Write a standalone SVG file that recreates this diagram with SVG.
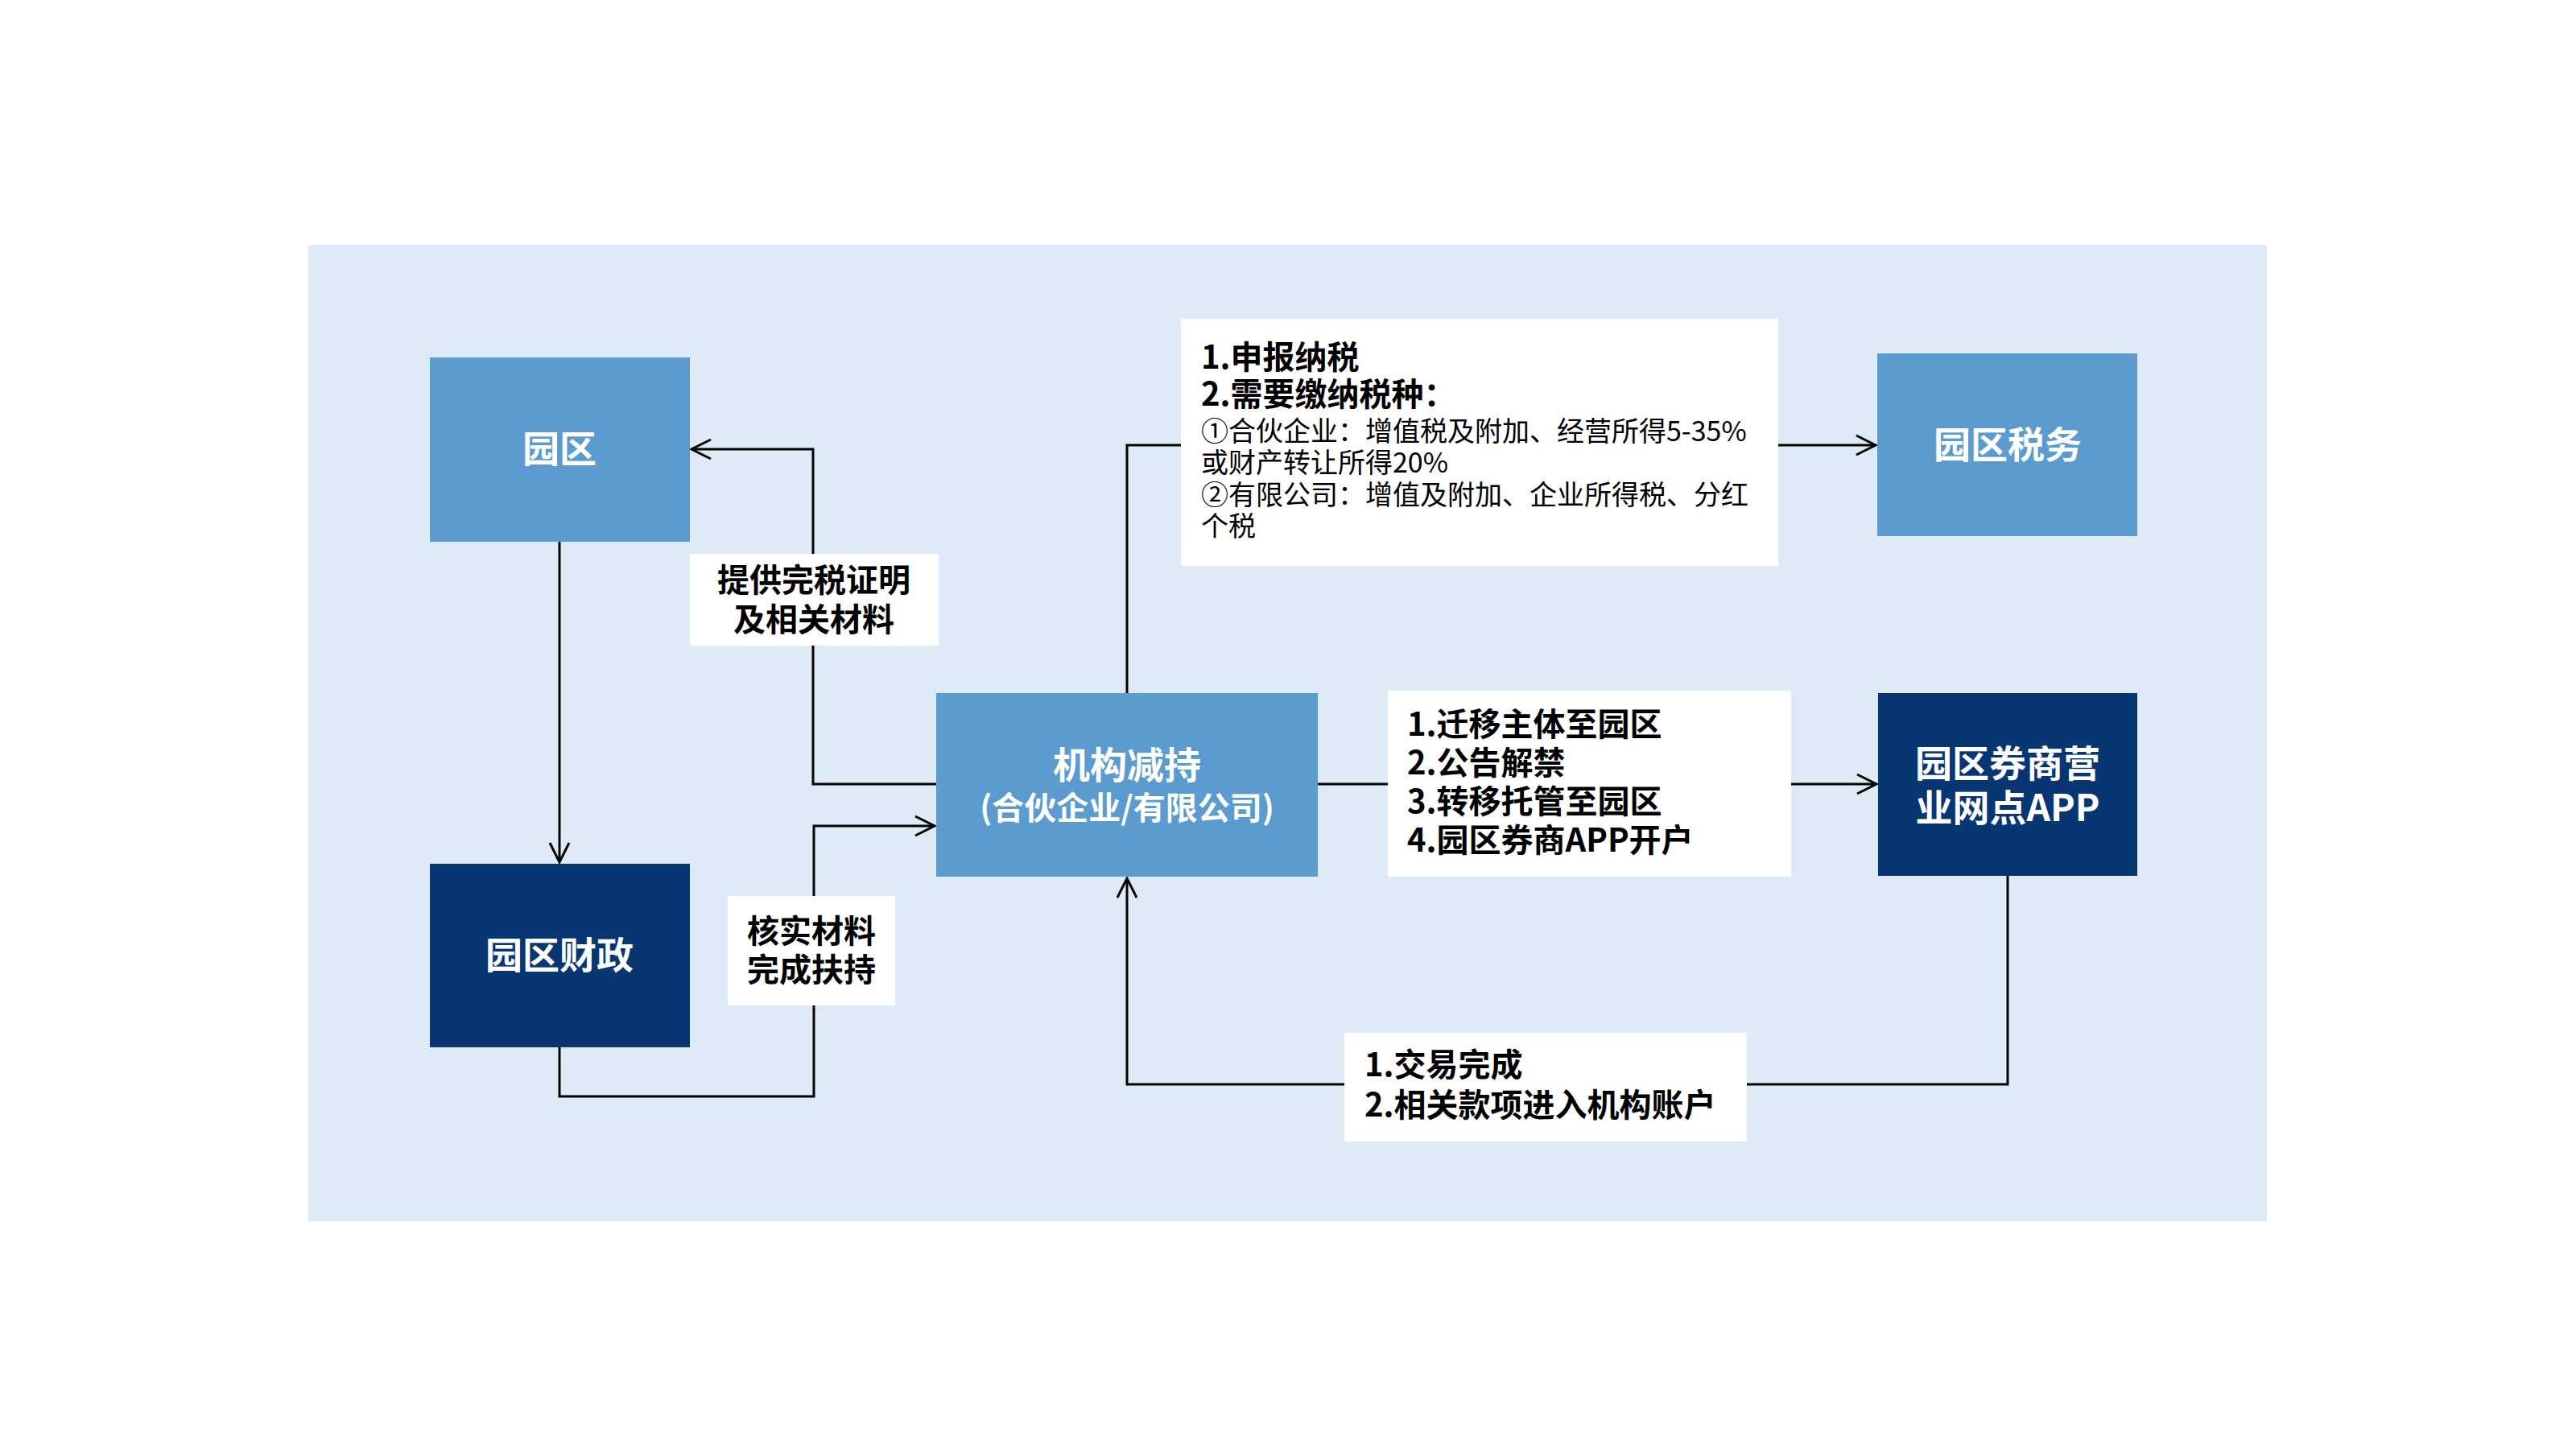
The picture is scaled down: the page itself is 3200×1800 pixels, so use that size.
<svg xmlns="http://www.w3.org/2000/svg" width="3200" height="1800" viewBox="0 0 3200 1800">
<defs>
<marker id="arr" markerWidth="30" markerHeight="30" viewBox="0 0 30 30" refX="26" refY="15" orient="auto" markerUnits="userSpaceOnUse">
<path d="M2,3 L26,15 L2,27" fill="none" stroke="#000" stroke-width="3"/>
</marker>
<style>
.mid{fill:#5B9BD0}
.dark{fill:#083672}
.lbl{fill:#FFFFFF}
.nt{font-family:"Noto Sans CJK SC","Noto Sans",sans-serif;font-weight:700;font-size:46px;fill:#FFFFFF;text-anchor:middle}
.bt{font-family:"Noto Sans CJK SC","Noto Sans",sans-serif;font-weight:700;font-size:40px;fill:#000000}
.rt{font-family:"Noto Sans CJK SC","Noto Sans",sans-serif;font-weight:400;font-size:34px;fill:#000000}
.c{fill:none;stroke:#000;stroke-width:3}
</style>
</defs>
<rect x="0" y="0" width="3200" height="1800" fill="#FFFFFF"/>
<rect x="383" y="304" width="2433" height="1213" fill="#DEEAF6"/>

<g id="connectors">
<polyline class="c" points="1163,974 1010,974 1010,558 859,558" marker-end="url(#arr)"/>
<polyline class="c" points="695,673 695,1071" marker-end="url(#arr)"/>
<polyline class="c" points="695,1301 695,1362 1011,1362 1011,1026 1161,1026" marker-end="url(#arr)"/>
<polyline class="c" points="1400,861 1400,553 2330,553" marker-end="url(#arr)"/>
<polyline class="c" points="1637,974 2331,974" marker-end="url(#arr)"/>
<polyline class="c" points="2494,1088 2494,1347 1400,1347 1400,1091" marker-end="url(#arr)"/>
</g>

<g id="node-yuanqu">
<rect class="mid" x="534" y="444" width="323" height="229"/>
<text class="nt" x="695" y="574">园区</text>
</g>

<g id="node-caizheng">
<rect class="dark" x="534" y="1073" width="323" height="228"/>
<text class="nt" x="695" y="1203">园区财政</text>
</g>

<g id="node-jigou">
<rect class="mid" x="1163" y="861" width="474" height="228"/>
<text class="nt" x="1400" y="967" font-size="44">机构减持</text>
<text class="nt" x="1400" y="1018" style="font-size:40px">(合伙企业/有限公司)</text>
</g>

<g id="node-shuiwu">
<rect class="mid" x="2332" y="439" width="323" height="227"/>
<text class="nt" x="2494" y="569">园区税务</text>
</g>

<g id="node-quanshang">
<rect class="dark" x="2333" y="861" width="322" height="227"/>
<text class="nt" x="2494" y="965">园区券商营</text>
<text class="nt" x="2494" y="1020">业网点APP</text>
</g>

<g id="label-wanshui">
<rect class="lbl" x="857" y="688" width="309" height="114"/>
<text class="bt" x="1011" y="735" text-anchor="middle">提供完税证明</text>
<text class="bt" x="1011" y="784" text-anchor="middle">及相关材料</text>
</g>

<g id="label-heshi">
<rect class="lbl" x="904" y="1113" width="208" height="136"/>
<text class="bt" x="1008" y="1171" text-anchor="middle">核实材料</text>
<text class="bt" x="1008" y="1219" text-anchor="middle">完成扶持</text>
</g>

<g id="label-shuizhong">
<rect class="lbl" x="1467" y="396" width="742" height="307"/>
<text class="bt" x="1492" y="458">1.申报纳税</text>
<text class="bt" x="1492" y="504">2.需要缴纳税种：</text>
<text class="rt" x="1492" y="548">①合伙企业：增值税及附加、经营所得5-35%</text>
<text class="rt" x="1492" y="587">或财产转让所得20%</text>
<text class="rt" x="1492" y="627">②有限公司：增值及附加、企业所得税、分红</text>
<text class="rt" x="1492" y="666">个税</text>
</g>

<g id="label-qianyi">
<rect class="lbl" x="1724" y="858" width="501" height="231"/>
<text class="bt" x="1748" y="914">1.迁移主体至园区</text>
<text class="bt" x="1748" y="962">2.公告解禁</text>
<text class="bt" x="1748" y="1010">3.转移托管至园区</text>
<text class="bt" x="1748" y="1058">4.园区券商APP开户</text>
</g>

<g id="label-jiaoyi">
<rect class="lbl" x="1670" y="1283" width="500" height="135"/>
<text class="bt" x="1695" y="1337">1.交易完成</text>
<text class="bt" x="1695" y="1387">2.相关款项进入机构账户</text>
</g>
</svg>
